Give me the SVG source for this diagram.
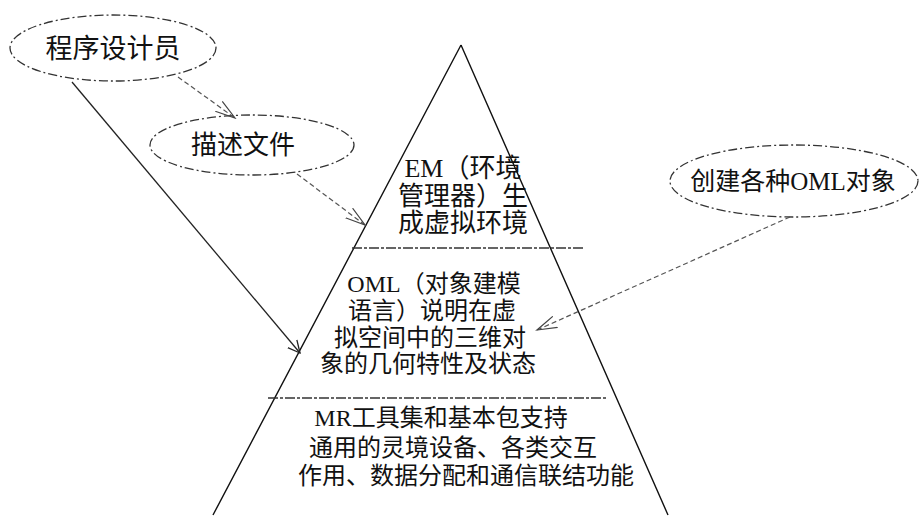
<svg xmlns="http://www.w3.org/2000/svg" width="919" height="517" viewBox="0 0 919 517">
<style>
.t{font-family:"Liberation Serif","Noto Sans CJK SC",serif;fill:#111;text-anchor:middle}
.e{fill:none;stroke:#333;stroke-width:1.3;stroke-dasharray:9 3 2 3}
.tri{fill:none;stroke:#111;stroke-width:1.4}
.sep{stroke:#333;stroke-width:1.5;stroke-dasharray:10 2 3 2}
.c{fill:none;stroke:#222;stroke-width:1.3}
.d{fill:none;stroke:#555;stroke-width:1.2;stroke-dasharray:5 3}
</style>
<defs>
<marker id="ah" markerWidth="14" markerHeight="14" refX="12" refY="7" orient="auto" markerUnits="userSpaceOnUse">
<path d="M0,1 L12,7 L0,13" fill="none" stroke="#222" stroke-width="1.3"/>
</marker>
<marker id="ahd" markerWidth="22" markerHeight="14" refX="20" refY="7" orient="auto" markerUnits="userSpaceOnUse">
<path d="M0,1 L20,7 L0,13" fill="none" stroke="#444" stroke-width="1.2"/>
</marker>
</defs>
<g id="pyramid">
<path class="tri" d="M461,45 L213,515 M461,45 L668,515"/>
<line class="sep" x1="352" y1="248" x2="583" y2="248"/>
<line class="sep" x1="268" y1="398" x2="607" y2="398"/>
</g>
<g id="em">
<text class="t" font-size="26" x="463" y="177">EM（环境</text>
<text class="t" font-size="26" x="463" y="205">管理器）生</text>
<text class="t" font-size="26" x="463" y="232">成虚拟环境</text>
</g>
<g id="oml">
<text class="t" font-size="24" x="434" y="292">OML（对象建模</text>
<text class="t" font-size="24" x="432" y="319">语言）说明在虚</text>
<text class="t" font-size="24" x="430" y="346">拟空间中的三维对</text>
<text class="t" font-size="24" x="428" y="372">象的几何特性及状态</text>
</g>
<g id="mr">
<text class="t" font-size="24" x="441" y="426">MR工具集和基本包支持</text>
<text class="t" font-size="24" x="453" y="456">通用的灵境设备、各类交互</text>
<text class="t" font-size="24" x="466" y="484">作用、数据分配和通信联结功能</text>
</g>
<g id="programmer">
<ellipse class="e" cx="113" cy="48" rx="103" ry="33"/>
<text class="t" font-size="27" x="113" y="58">程序设计员</text>
</g>
<g id="descfile">
<ellipse class="e" cx="252" cy="145" rx="102" ry="30"/>
<text class="t" font-size="26" x="243" y="154">描述文件</text>
</g>
<g id="create">
<ellipse class="e" cx="794" cy="181" rx="124" ry="36"/>
<text class="t" font-size="25" x="793" y="190">创建各种OML对象</text>
</g>
<g id="connectors">
<line class="c" x1="72" y1="82" x2="300" y2="353" marker-end="url(#ah)"/>
<line class="d" x1="178" y1="77" x2="235" y2="118" marker-end="url(#ahd)"/>
<line class="d" x1="297" y1="174" x2="365" y2="225" marker-end="url(#ahd)"/>
<line class="d" x1="790" y1="217" x2="537" y2="330" marker-end="url(#ahd)"/>
</g>
</svg>
